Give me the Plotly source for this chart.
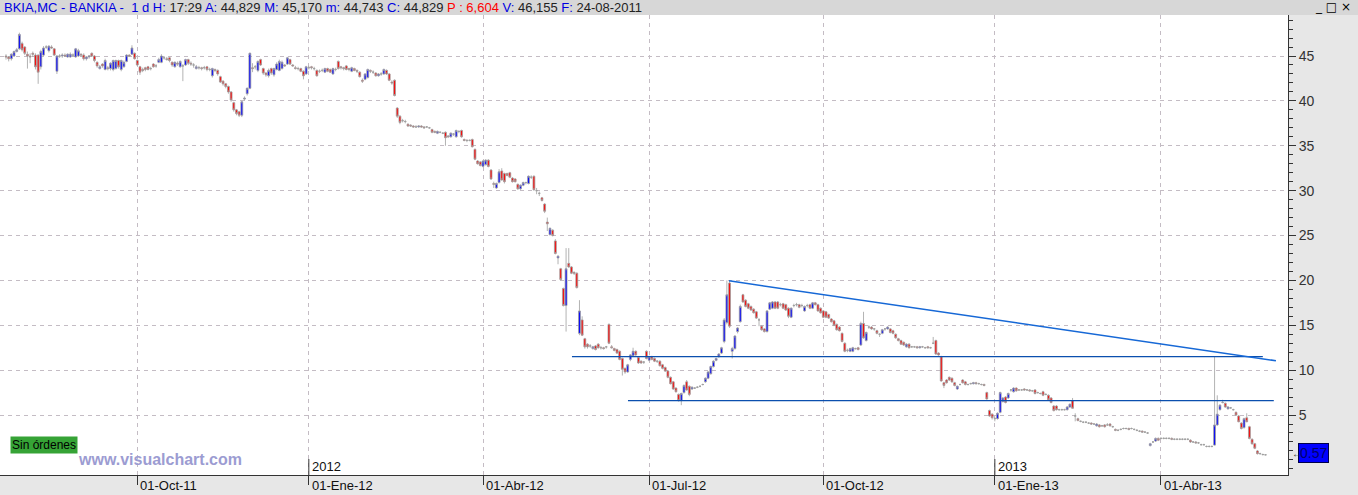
import plotly.graph_objects as go
import pandas as pd

# ---------------- data ----------------
START_DATE = "2011-07-26"
HOLIDAYS = ["2011-12-26", "2012-04-06", "2012-04-09", "2012-05-01", "2012-12-25",
            "2012-12-26", "2013-01-01", "2013-03-29", "2013-04-01", "2013-05-01"]

opens = [
    45.0,44.9,44.7,45.0,45.5,45.8,46.4,46.0,45.2,45.0,
    45.3,45.1,45.1,43.8,45.1,46.0,45.6,46.0,45.8,43.3,
    45.0,45.0,45.1,44.9,44.9,45.1,44.9,45.0,45.2,45.1,
    44.7,44.9,45.3,45.0,44.3,43.6,44.1,43.5,43.7,43.6,
    43.5,43.6,44.5,43.5,43.8,44.4,45.1,45.2,45.3,44.5,
    43.8,43.5,43.7,43.8,43.6,44.1,43.9,44.3,44.3,44.8,
    44.7,44.8,44.3,43.8,44.2,43.8,43.9,44.0,44.6,44.2,
    44.0,43.6,43.7,43.7,43.7,43.8,43.5,42.8,43.5,43.4,
    42.7,42.2,41.9,41.6,41.0,39.8,39.0,38.8,38.4,40.2,
    40.8,41.4,43.7,43.8,43.4,44.6,43.6,43.1,42.8,43.6,
    42.9,43.5,43.4,43.6,44.0,44.1,44.6,44.0,43.7,43.6,
    43.6,43.3,43.0,43.7,43.8,43.6,43.4,43.3,43.4,43.2,
    43.6,43.5,43.0,43.5,44.4,43.8,43.7,43.9,43.6,43.3,
    43.6,43.4,43.2,42.3,42.4,42.6,43.4,43.2,43.1,42.8,
    43.0,43.0,43.4,43.0,42.1,42.3,39.2,38.3,37.8,37.7,
    37.4,37.3,37.2,37.1,37.1,37.2,37.1,37.1,37.0,36.8,
    36.6,36.4,36.5,36.4,36.5,36.1,36.0,36.3,36.0,36.6,
    36.7,35.7,35.6,35.6,35.7,34.6,33.3,33.2,32.7,32.9,
    33.4,32.3,30.8,30.3,30.9,32.2,31.9,31.9,32.0,31.4,
    31.3,30.7,30.2,30.6,30.9,30.8,31.5,31.6,30.0,29.7,
    29.2,28.5,26.5,25.1,25.6,24.4,22.5,21.3,19.1,17.2,
    21.9,21.5,20.9,20.8,14.1,15.6,13.5,12.9,12.7,12.4,
    12.7,12.9,12.5,12.5,12.6,15.1,12.6,12.4,12.3,12.1,
    11.3,10.2,9.8,11.2,11.6,12.1,11.4,11.0,10.9,12.1,
    11.1,11.5,11.3,11.0,11.0,10.6,10.3,9.9,9.2,8.7,
    8.0,7.3,6.6,7.5,8.7,8.2,7.9,8.0,8.1,8.2,
    8.4,8.7,9.1,9.6,10.4,11.1,11.5,11.9,13.2,15.3,
    19.7,12.1,12.4,14.3,15.4,18.4,17.8,17.4,17.1,16.8,
    16.5,15.6,14.9,14.6,14.3,16.8,16.9,17.6,17.6,17.3,
    17.4,17.3,16.9,15.9,17.2,17.3,17.3,17.2,16.6,17.2,
    17.3,16.9,17.5,17.3,16.9,16.6,16.5,16.2,15.7,15.5,
    15.1,14.8,14.1,13.0,12.2,12.1,12.1,12.4,12.5,12.8,
    15.2,13.3,14.8,14.8,14.6,14.4,14.0,14.1,14.6,14.6,
    14.6,14.4,14.0,13.5,13.3,13.1,12.6,12.9,12.6,12.6,
    12.6,12.5,12.6,12.5,12.6,12.5,13.0,13.3,11.9,11.5,
    8.6,8.9,9.2,9.1,8.6,7.9,8.4,8.9,8.7,8.4,
    8.5,8.5,8.6,8.5,8.4,8.4,7.5,5.5,5.1,4.6,
    4.6,5.3,6.5,7.0,6.9,7.8,7.6,8.0,7.8,7.8,
    7.9,7.8,7.8,7.7,7.8,7.5,7.4,7.6,7.3,7.2,
    6.9,6.0,6.0,5.6,5.6,5.6,5.6,5.9,6.6,4.9,
    4.6,4.3,4.2,4.2,4.1,4.1,4.0,3.8,3.9,3.8,
    3.9,3.9,4.0,3.7,3.4,3.3,3.4,3.5,3.5,3.5,
    3.5,3.4,3.3,3.2,3.2,3.1,3.0,1.6,2.0,2.1,
    2.4,2.4,2.4,2.4,2.4,2.4,2.3,2.3,2.3,2.3,
    2.3,2.3,2.2,2.0,2.0,1.9,1.7,1.7,1.5,1.5,
    1.5,1.65,3.9,5.6,6.4,6.3,5.7,5.8,5.6,5.3,
    4.9,4.1,3.6,4.7,3.7,2.3,1.8,1.0,0.7,0.6,0.57,
]

closes = [
    44.9,44.7,45.2,45.5,45.7,47.4,45.7,45.3,45.0,44.9,
    45.2,43.8,43.2,45.5,45.9,46.0,46.1,45.9,45.1,45.0,
    45.0,45.1,45.0,45.2,45.2,45.1,45.8,45.6,45.1,44.7,
    44.9,45.0,45.0,44.5,43.9,43.8,43.9,44.5,43.6,44.2,
    44.5,44.5,43.8,44.5,44.3,45.1,45.0,45.9,44.7,44.0,
    43.2,43.4,43.5,43.5,43.6,43.8,43.9,44.6,45.0,44.8,
    44.6,44.5,44.0,44.3,44.1,44.4,43.9,44.6,44.2,44.1,
    44.0,43.8,43.7,43.6,43.7,43.5,43.5,43.6,43.4,43.0,
    42.1,41.9,41.6,41.0,40.1,39.0,38.6,38.4,39.9,40.3,
    41.4,45.3,43.6,43.8,44.4,44.0,43.1,42.9,43.4,43.1,
    43.6,44.1,44.4,44.3,43.9,44.8,44.1,43.9,43.6,43.6,
    43.3,42.8,43.8,43.7,43.7,43.6,42.8,43.3,43.4,43.6,
    43.3,43.2,43.6,43.5,43.6,43.7,43.6,43.5,43.5,43.7,
    43.4,43.3,42.7,42.2,43.0,43.5,43.3,43.2,42.8,43.0,
    43.0,43.5,43.0,42.3,42.0,40.6,38.3,37.6,37.8,37.7,
    37.2,37.2,37.1,37.1,37.2,37.1,37.0,37.1,37.0,36.5,
    36.5,36.6,36.5,36.4,35.9,36.0,36.4,36.3,36.7,36.6,
    36.0,35.6,35.6,35.6,34.9,33.5,33.0,32.8,33.3,33.4,
    32.7,31.3,30.7,30.8,32.1,31.2,31.0,31.7,31.5,31.0,
    31.0,30.2,30.6,30.9,30.9,31.6,31.5,30.1,30.0,29.7,
    28.9,27.7,26.3,25.8,25.0,23.0,22.7,20.1,17.2,21.3,
    21.5,20.8,20.8,19.2,16.6,13.9,12.6,12.6,12.7,12.6,
    12.3,12.5,12.5,12.4,12.6,13.0,12.5,12.2,11.9,11.2,
    10.1,9.8,10.6,11.7,12.1,11.7,10.8,10.8,10.9,11.3,
    11.5,11.2,11.0,11.0,10.5,10.2,9.9,9.2,8.5,7.9,
    7.6,6.6,7.4,8.3,7.8,7.3,8.1,8.0,8.1,8.2,
    8.4,9.1,9.8,10.4,11.0,11.3,11.8,12.5,15.6,18.4,
    14.9,12.4,13.8,14.7,17.1,17.6,17.1,16.9,16.7,16.4,
    15.8,15.6,14.5,14.3,16.6,17.5,17.6,16.9,16.9,17.3,
    16.9,16.7,16.0,16.9,17.2,17.3,17.0,17.2,17.1,17.2,
    16.9,17.5,17.3,16.6,16.4,15.9,15.9,15.8,15.4,15.0,
    14.5,14.4,13.2,12.1,12.2,12.4,12.5,12.4,12.3,15.2,
    13.6,14.2,14.8,14.6,14.6,14.1,14.0,14.5,14.6,14.8,
    14.2,14.1,13.6,13.3,12.9,12.8,12.9,12.5,12.6,12.6,
    12.5,12.6,12.6,12.5,12.5,12.5,13.0,11.8,11.7,8.8,
    8.3,8.6,8.9,8.7,8.3,8.2,8.4,8.6,8.4,8.4,
    8.5,8.6,8.5,8.5,8.4,8.3,6.8,4.9,4.7,4.6,
    5.2,7.5,6.9,6.4,7.4,7.8,8.0,7.7,7.8,7.8,
    7.8,7.8,7.7,7.7,7.4,7.5,7.4,7.2,7.3,6.7,
    6.4,5.5,5.6,5.6,5.6,5.6,5.9,6.2,5.75,4.9,
    4.4,4.3,4.2,4.2,4.1,4.0,4.0,4.0,3.7,3.8,
    3.7,3.9,3.8,3.7,3.3,3.3,3.4,3.5,3.5,3.4,
    3.5,3.4,3.3,3.2,3.1,3.1,3.0,1.8,2.0,2.4,
    2.2,2.4,2.4,2.4,2.4,2.3,2.3,2.3,2.3,2.3,
    2.3,2.3,2.0,2.0,1.9,1.9,1.7,1.7,1.5,1.5,
    1.5,3.9,5.1,6.1,6.4,5.9,5.9,5.8,5.6,5.0,
    4.25,3.5,4.6,4.25,2.4,1.8,1.3,0.7,0.7,0.6,0.57,
]

highs = [
    45.2,45.0,45.3,45.6,45.9,47.6,46.6,46.1,45.5,45.3,
    45.5,45.3,45.2,45.7,46.1,46.2,46.2,46.2,45.9,45.1,
    45.2,45.3,45.3,45.3,45.4,45.3,45.9,45.8,45.3,45.3,
    45.0,45.1,45.4,45.1,44.4,44.0,44.2,44.7,43.9,44.3,
    44.6,44.6,44.6,44.6,44.5,45.2,45.2,46.2,45.4,44.6,
    43.9,43.7,43.8,43.9,43.8,44.2,44.1,44.8,45.2,45.0,
    44.9,44.9,44.4,44.4,44.4,44.5,44.1,44.7,44.7,44.4,
    44.2,44.0,43.9,43.8,43.9,43.9,43.7,43.7,43.6,43.5,
    42.8,42.3,42.0,41.7,41.1,39.9,39.1,38.9,40.0,40.5,
    41.5,45.4,44.2,44.0,44.5,44.7,43.7,43.2,43.6,43.7,
    43.7,44.3,44.6,44.5,44.1,44.9,44.7,44.1,43.9,43.8,
    43.7,43.4,43.9,43.9,43.9,43.8,43.5,43.5,43.6,43.7,
    43.7,43.6,43.7,43.7,44.5,43.9,43.8,44.0,43.7,43.8,
    43.7,43.5,43.3,42.5,43.1,43.6,43.5,43.4,43.2,43.1,
    43.2,43.6,43.5,43.1,42.3,42.4,39.3,38.4,38.0,37.9,
    37.5,37.4,37.3,37.3,37.3,37.3,37.2,37.2,37.1,36.9,
    36.7,36.7,36.6,36.5,36.6,36.2,36.5,36.4,36.8,36.7,
    36.8,35.8,35.7,35.7,35.8,34.7,33.4,33.3,33.4,33.5,
    33.5,32.4,31.0,30.9,32.4,32.5,32.0,32.0,32.1,31.5,
    31.4,30.8,30.7,31.0,31.0,31.7,31.7,31.7,30.3,29.9,
    29.3,28.6,27.0,25.9,25.7,24.6,22.8,21.4,19.2,23.6,
    23.6,21.6,21.0,20.9,17.8,16.0,13.6,13.0,12.9,12.7,
    12.8,13.0,12.7,12.6,12.7,15.2,12.8,12.5,12.4,12.2,
    11.4,10.3,10.7,11.8,12.5,12.2,11.5,11.1,11.0,12.2,
    11.6,11.6,11.4,11.1,11.1,10.7,10.4,10.0,9.3,8.8,
    8.1,7.4,7.5,8.4,8.9,8.3,8.2,8.1,8.2,8.3,
    8.5,9.2,9.9,10.5,11.1,11.4,11.9,12.6,15.8,20.0,
    20.0,12.6,13.9,14.8,17.3,18.5,17.9,17.5,17.2,16.9,
    16.6,15.8,15.0,14.7,16.7,17.6,17.7,17.7,17.7,17.5,
    17.5,17.4,17.0,17.0,17.4,17.5,17.4,17.4,17.2,17.4,
    17.4,17.6,17.6,17.4,17.0,16.7,16.6,16.3,15.8,15.6,
    15.2,14.9,14.2,13.1,12.4,12.5,12.6,12.5,12.6,15.4,
    16.5,14.3,15.0,14.9,14.7,14.5,14.1,14.6,14.7,14.9,
    14.7,14.5,14.1,13.6,13.4,13.2,13.0,13.0,12.7,12.7,
    12.7,12.7,12.7,12.6,12.7,12.6,13.7,13.4,12.0,11.6,
    8.7,9.0,9.3,9.2,8.7,8.3,8.5,9.0,8.8,8.5,
    8.6,8.7,8.7,8.6,8.5,8.5,7.6,5.6,5.2,4.8,
    5.3,7.6,7.0,7.1,7.5,7.9,8.1,8.1,7.9,7.9,
    8.0,7.9,7.9,7.8,7.9,7.6,7.5,7.7,7.4,7.3,
    7.0,6.1,6.1,5.7,5.7,5.7,6.0,6.3,6.9,5.2,
    4.7,4.4,4.3,4.3,4.2,4.2,4.1,4.1,4.0,3.9,
    4.0,4.1,4.1,3.8,3.5,3.4,3.5,3.6,3.6,3.6,
    3.6,3.5,3.4,3.3,3.3,3.2,3.1,1.9,2.1,2.5,
    2.5,2.5,2.5,2.5,2.5,2.5,2.4,2.4,2.4,2.4,
    2.4,2.4,2.3,2.1,2.1,2.0,1.8,1.8,1.6,1.6,
    1.6,11.5,7.2,6.2,6.7,6.4,6.0,5.9,5.7,5.4,
    5.0,4.2,4.7,5.2,3.8,2.4,1.9,1.1,0.8,0.7,0.6,
]

lows = [
    44.6,44.4,44.5,44.9,45.4,45.7,45.5,45.1,43.6,44.2,
    44.9,43.5,41.9,43.5,45.0,45.8,45.4,45.8,45.0,43.0,
    44.8,44.8,44.9,44.8,44.8,44.9,44.8,44.9,44.9,44.5,
    44.5,44.7,44.9,44.3,43.7,43.5,43.7,43.4,43.4,43.4,
    43.3,43.5,43.6,43.3,43.7,44.3,44.9,45.1,44.6,43.9,
    42.9,43.2,43.3,43.4,43.4,43.7,43.7,44.2,44.2,44.6,
    44.5,44.3,43.8,43.7,43.9,43.7,42.2,43.9,44.0,43.9,
    43.7,43.5,43.5,43.4,43.5,43.3,43.3,42.6,43.2,42.8,
    42.0,41.7,41.4,40.8,39.9,38.8,38.4,38.2,38.2,40.0,
    40.6,41.3,43.2,43.5,43.2,43.9,42.9,42.7,42.6,42.9,
    42.7,43.4,43.3,43.5,43.8,44.0,44.0,43.8,43.5,43.4,
    43.2,42.4,42.9,43.5,43.5,43.4,42.7,43.1,43.2,43.1,
    43.2,43.1,42.9,43.3,43.5,43.5,43.4,43.4,43.3,43.2,
    43.3,43.1,42.6,42.0,42.3,42.5,43.1,43.0,42.7,42.7,
    42.8,42.9,42.9,42.2,41.8,40.5,38.1,37.4,37.6,37.5,
    37.1,37.1,37.0,37.0,37.0,37.0,36.9,37.0,36.9,36.4,
    36.4,36.3,36.4,36.3,35.0,35.9,35.9,36.1,35.9,36.4,
    35.9,35.5,35.4,35.5,34.8,33.4,32.9,32.7,32.6,32.8,
    32.6,31.2,30.3,30.2,30.8,31.1,30.8,31.6,31.4,30.9,
    30.9,30.1,30.1,30.5,30.7,30.7,31.3,30.0,29.6,29.4,
    28.8,27.5,25.5,25.0,24.9,22.9,21.8,20.0,17.1,14.3,
    21.4,20.7,20.6,19.1,13.9,13.8,12.4,12.4,12.5,12.3,
    12.2,12.4,12.3,12.3,12.4,12.9,12.4,12.1,11.8,11.1,
    9.4,9.6,9.7,11.0,11.5,11.6,10.7,10.7,10.7,11.2,
    11.0,11.1,10.9,10.8,10.4,10.1,9.8,9.1,8.4,7.8,
    7.5,6.5,6.1,7.4,7.7,7.1,7.8,7.9,8.0,8.1,
    8.3,8.6,9.0,9.5,10.3,11.0,11.4,11.8,13.0,15.1,
    14.7,11.3,12.3,14.1,15.3,17.5,17.0,16.8,16.6,16.3,
    15.7,14.9,14.4,14.2,14.2,16.7,16.8,16.8,16.8,17.1,
    16.8,16.6,15.8,15.8,17.0,17.1,16.9,17.0,16.5,17.0,
    16.8,16.8,17.2,16.5,16.3,15.8,15.8,15.7,15.3,14.9,
    14.4,14.3,13.1,12.0,12.0,12.0,12.0,12.3,12.2,12.7,
    13.5,13.2,14.6,14.5,14.4,14.0,13.7,14.0,14.4,14.5,
    14.1,14.0,13.5,13.2,12.8,12.7,12.5,12.4,12.5,12.5,
    12.4,12.4,12.5,12.4,12.4,12.4,12.9,11.7,11.6,8.7,
    8.0,8.5,8.8,8.6,8.2,7.8,8.3,8.5,8.3,8.3,
    8.4,8.4,8.4,8.4,8.3,8.2,6.7,4.8,4.5,4.3,
    4.5,5.2,6.4,6.3,6.8,7.6,7.5,7.6,7.7,7.7,
    7.7,7.7,7.6,7.6,7.3,7.4,7.3,7.1,7.2,6.6,
    6.3,5.4,5.5,5.5,5.5,5.5,5.5,5.8,5.7,4.3,
    4.3,4.2,4.1,4.1,4.0,3.9,3.9,3.7,3.6,3.7,
    3.6,3.8,3.7,3.6,3.2,3.2,3.3,3.4,3.4,3.3,
    3.4,3.3,3.2,3.1,3.0,3.0,2.9,1.5,1.9,2.0,
    2.1,2.3,2.3,2.3,2.3,2.2,2.2,2.2,2.2,2.2,
    2.2,2.2,1.9,1.9,1.8,1.8,1.6,1.6,1.4,1.4,
    1.4,1.6,3.8,5.5,6.3,5.8,5.6,5.7,5.5,4.9,
    4.2,3.4,3.5,4.2,2.3,1.7,1.2,0.6,0.6,0.5,0.5,
]

tick_dates = ["2011-10-03", "2012-01-02", "2012-04-02", "2012-07-02",
              "2012-10-01", "2013-01-02", "2013-04-02"]
tick_labels = ["01-Oct-11", "01-Ene-12", "01-Abr-12", "01-Jul-12",
               "01-Oct-12", "01-Ene-13", "01-Abr-13"]
year_dates = ["2012-01-02", "2013-01-02"]
year_labels = ["2012", "2013"]
y_ticks = [5, 10, 15, 20, 25, 30, 35, 40, 45]

# drawn study lines (bar index, price)
support_upper = dict(x0=211.2, x1=469.0, level=11.5)
support_lower = dict(x0=232.1, x1=473.1, level=6.6)
trend_line = dict(x0=269.8, y0=19.95, x1=473.9, y1=11.05)
last_price = 0.77
last_price_label = "0.57"

# ---------------- figure ----------------
lens = {len(opens), len(closes), len(highs), len(lows)}
if len(lens) != 1:
    raise SystemExit(f"length mismatch {len(opens)} {len(closes)} {len(highs)} {len(lows)}")
n = len(closes)
dates = pd.bdate_range(START_DATE, periods=n, freq="C", holidays=HOLIDAYS)
x = [d.strftime("%Y-%m-%d") for d in dates]
pos = {d: i for i, d in enumerate(x)}

fig = go.Figure()
fig.add_trace(go.Candlestick(
    x=x, open=opens, high=highs, low=lows, close=closes,
    increasing=dict(fillcolor="#0000ff", line=dict(color="#a0a0a0", width=0.8)),
    decreasing=dict(fillcolor="#ff0000", line=dict(color="#a0a0a0", width=0.8)),
    whiskerwidth=0, hoverinfo="skip", showlegend=False,
))

PLOT_H = 460.0  # px height of plot area
def py(px_from_top):
    return (475.0 - px_from_top) / PLOT_H

shapes = []
# header band
shapes.append(dict(type="rect", xref="paper", yref="paper", x0=-0.01, x1=1.1,
                   y0=1.0, y1=1.0 + 16 / PLOT_H, fillcolor="#d7d7d7", line_width=0, layer="below"))
# study lines
shapes.append(dict(type="line", xref="x", yref="y", x0=support_upper["x0"], x1=support_upper["x1"],
                   y0=support_upper["level"], y1=support_upper["level"],
                   line=dict(color="#0b4fae", width=1.3)))
shapes.append(dict(type="line", xref="x", yref="y", x0=support_lower["x0"], x1=support_lower["x1"],
                   y0=support_lower["level"], y1=support_lower["level"],
                   line=dict(color="#0b4fae", width=1.3)))
shapes.append(dict(type="line", xref="x", yref="y", x0=trend_line["x0"], x1=trend_line["x1"],
                   y0=trend_line["y0"], y1=trend_line["y1"],
                   line=dict(color="#1668d6", width=1.5)))
# year markers
for d in year_dates:
    shapes.append(dict(type="line", xref="x", yref="paper", x0=pos[d], x1=pos[d],
                       y0=0, y1=py(459), line=dict(color="#333333", width=1)))

annotations = []
for d, lab in zip(tick_dates, tick_labels):
    annotations.append(dict(x=pos[d], xref="x", y=py(485), yref="paper", text=lab,
                            showarrow=False, xanchor="left", yanchor="middle", xshift=1,
                            font=dict(size=13, color="#111111", family="Liberation Sans, Arial")))
for d, lab in zip(year_dates, year_labels):
    annotations.append(dict(x=pos[d], xref="x", y=py(466), yref="paper", text=lab,
                            showarrow=False, xanchor="left", yanchor="middle", xshift=1,
                            font=dict(size=13, color="#111111", family="Liberation Sans, Arial")))

B = "color:#0000e0"
header = (f"<span style='{B}'>BKIA,MC - BANKIA -  1 d H:</span> 17:29 "
          f"<span style='{B}'>A:</span> 44,829 <span style='{B}'>M:</span> 45,170 "
          f"<span style='{B}'>m:</span> 44,743 <span style='{B}'>C:</span> 44,829 "
          f"<span style='color:#ff0000'>P : 6,604</span> <span style='{B}'>V:</span> 46,155 "
          f"<span style='{B}'>F:</span> 24-08-2011")
annotations.append(dict(x=0, xref="paper", y=py(7.5), yref="paper", text=header, showarrow=False,
                        xanchor="left", yanchor="middle", xshift=2,
                        font=dict(size=13, color="#222222", family="Liberation Sans, Arial")))
annotations.append(dict(x=1333 / 1288, xref="paper", y=py(7), yref="paper", text="_ □ ×",
                        showarrow=False, xanchor="center", yanchor="middle",
                        font=dict(size=12, color="#000000", family="DejaVu Sans")))
annotations.append(dict(x=10 / 1288, xref="paper", y=py(445), yref="paper", text="Sin órdenes",
                        showarrow=False, xanchor="left", yanchor="middle", bgcolor="#36a336",
                        borderpad=1, font=dict(size=12, color="#000000", family="Liberation Sans, Arial")))
annotations.append(dict(x=160 / 1288, xref="paper", y=py(459), yref="paper", text="<b>www.visualchart.com</b>",
                        showarrow=False, xanchor="center", yanchor="middle",
                        font=dict(size=16, color="#9c9cd2", family="Liberation Sans, Arial")))
annotations.append(dict(x=1298 / 1288, xref="paper", y=last_price, yref="y", text=last_price_label,
                        showarrow=False, xanchor="left", yanchor="middle", bgcolor="#0000ff",
                        bordercolor="#00004a", borderwidth=1, borderpad=1,
                        font=dict(size=14, color="#00006a", family="Liberation Sans, Arial")))
annotations.append(dict(x=1290 / 1288, xref="paper", y=last_price, yref="y", text="←",
                        showarrow=False, xanchor="left", yanchor="middle",
                        font=dict(size=10, color="#333333")))

fig.update_layout(
    width=1358, height=495, margin=dict(l=0, r=70, t=15, b=20),
    paper_bgcolor="#e7e7e7", plot_bgcolor="#ffffff", showlegend=False,
    font=dict(family="Liberation Sans, Arial, sans-serif", size=12, color="#222222"),
    shapes=shapes, annotations=annotations, boxgap=0.0,
)
fig.update_xaxes(
    type="category", range=[-2.24, 478.4], rangeslider_visible=False,
    tickmode="array", tickvals=tick_dates, showticklabels=False,
    ticks="outside", ticklen=9, tickcolor="#333333", tickwidth=1,
    showgrid=True, gridcolor="#c4bcc4", griddash="4px,4px", gridwidth=1,
    showline=True, linecolor="#333333", linewidth=1, zeroline=False, fixedrange=True,
)
fig.update_yaxes(
    side="right", range=[-1.68, 49.57], tickmode="array", tickvals=y_ticks,
    ticks="outside", ticklen=7, tickcolor="#333333",
    tickfont=dict(size=14, color="#333333", family="Liberation Sans, Arial"),
    showgrid=True, gridcolor="#c4bcc4", griddash="4px,4px", gridwidth=1,
    showline=True, linecolor="#333333", linewidth=1, zeroline=False,
    minor=dict(dtick=1, tick0=0, ticks="outside", ticklen=4, tickcolor="#333333", showgrid=False),
)

fig.write_html("out.html", post_script="document.body.style.margin='0';",
               config={"displayModeBar": False})
